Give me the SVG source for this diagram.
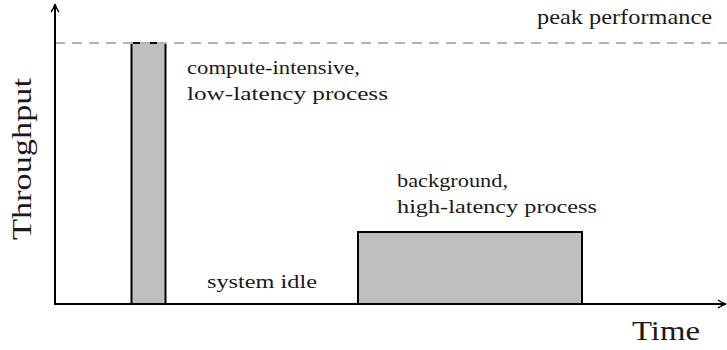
<svg xmlns="http://www.w3.org/2000/svg" width="727" height="350" viewBox="0 0 727 350">
<style>
.t{font-family:"Liberation Serif","DejaVu Serif",serif;fill:#1a1a1a}
.bar{fill:#bfbfbf;stroke:#000;stroke-width:2}
.ax{stroke:#000;stroke-width:2;fill:none}
</style>
<defs>
<marker id="ah" markerWidth="10" markerHeight="10" refX="8" refY="5" orient="auto" markerUnits="userSpaceOnUse">
<path d="M1,1 Q5,4 9,5 Q5,6 1,9" fill="none" stroke="#000" stroke-width="1.4"/>
</marker>
</defs>
<rect width="727" height="350" fill="#fff"/>
<g id="bar-compute">
<rect class="bar" x="131.5" y="43" width="34" height="261"/>
</g>
<g id="bar-background">
<rect class="bar" x="358" y="232" width="224" height="72"/>
</g>
<g id="connectors">
<line x1="55" y1="43" x2="727" y2="43" stroke="#b3b3b3" stroke-width="2" stroke-dasharray="10,7"/>
<line class="ax" x1="55" y1="305" x2="55" y2="5" marker-end="url(#ah)"/>
<line class="ax" x1="54" y1="304" x2="725" y2="304" marker-end="url(#ah)"/>
</g>
<g id="labels">
<text class="t" x="537" y="24" font-size="21" textLength="175" lengthAdjust="spacingAndGlyphs">peak performance</text>
<text class="t" x="187" y="74" font-size="18" textLength="173" lengthAdjust="spacingAndGlyphs">compute-intensive,</text>
<text class="t" x="187" y="100" font-size="18" textLength="201" lengthAdjust="spacingAndGlyphs">low-latency process</text>
<text class="t" x="397" y="187" font-size="18" textLength="111" lengthAdjust="spacingAndGlyphs">background,</text>
<text class="t" x="397" y="213" font-size="18" textLength="200" lengthAdjust="spacingAndGlyphs">high-latency process</text>
<text class="t" x="207" y="288" font-size="18" textLength="110" lengthAdjust="spacingAndGlyphs">system idle</text>
<text class="t" x="632" y="340" font-size="28" textLength="68" lengthAdjust="spacingAndGlyphs">Time</text>
<text class="t" x="0" y="0" font-size="28" textLength="162" lengthAdjust="spacingAndGlyphs" transform="translate(31,240) rotate(-90)">Throughput</text>
</g>
</svg>
